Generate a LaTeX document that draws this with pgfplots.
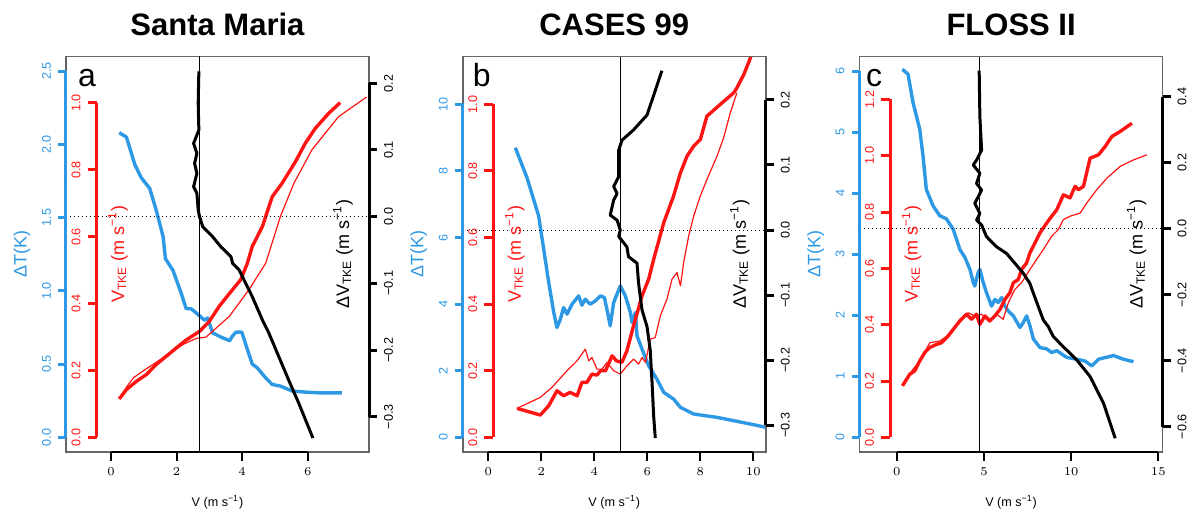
\documentclass[border=0pt]{standalone}
\usepackage{pgfplots}
\pgfplotsset{compat=1.18}
\usepackage{fontspec}
\setmainfont{Liberation Sans}
\definecolor{myblue}{RGB}{45,152,228}
\definecolor{myred}{RGB}{255,20,20}
\newcommand{\tl}{\fontsize{6.3}{7}\selectfont}
\pgfplotsset{
  every axis/.append style={scale only axis, anchor=south west},
  dbox/.style={width=151.5pt, height=197.75pt, hide axis, clip=true},
  fbox/.style={width=151.5pt, height=197.75pt, xtick=\empty, ytick=\empty,
     axis line style={draw=black!60, line width=0.7pt}, clip=true},
  blueln/.style={myblue, line width=1.7pt, line join=round},
  redthick/.style={myred, line width=1.7pt, line join=round},
  redthin/.style={myred, line width=0.6pt, line join=round},
  blackln/.style={black, line width=1.5pt, line join=round},
  bscale/.style={width=4pt, xmin=0, xmax=1, axis y line*=left, axis x line=none,
     xtick=\empty, tick align=outside, major tick length=4pt,
     y axis line style={-, draw=myblue, line width=1.5pt},
     ytick style={draw=myblue, line width=1.5pt},
     yticklabel style={rotate=90, anchor=south, font=\tl, text=myblue}},
  rscale/.style={width=4pt, xmin=0, xmax=1, axis y line*=left, axis x line=none,
     xtick=\empty, tick align=outside, major tick length=4.5pt,
     y axis line style={-, draw=myred, line width=1.5pt},
     ytick style={draw=myred, line width=1.5pt},
     yticklabel style={rotate=90, anchor=south, font=\tl, text=myred}},
  kscale/.style={anchor=south east, width=4pt, xmin=0, xmax=1, axis y line*=right, axis x line=none,
     xtick=\empty, tick align=outside, major tick length=4pt,
     y axis line style={-, draw=black, line width=1.5pt},
     ytick style={draw=black, line width=1.5pt},
     yticklabel style={rotate=90, anchor=north, font=\tl, text=black}},
  xscale/.style={height=2pt, ymin=0, ymax=1, axis x line*=bottom, axis y line=none,
     ytick=\empty, tick align=outside, major tick length=4.5pt,
     x axis line style={-, draw=black, line width=1pt},
     xtick style={draw=black, line width=1pt},
     xticklabel style={font=\tl, text=black}},
}
\begin{document}
\begin{tikzpicture}
\useasboundingbox (0,0) rectangle (596pt,257pt);
% ================= Panel a =================
\begin{axis}[dbox, at={(33pt,31pt)}, xmin=-1.373, xmax=7.871, ymin=-0.1, ymax=2.6]
\addplot[blueln] coordinates {(0.25,2.08)(0.47,2.05)(0.73,1.86)(0.93,1.77)(1.18,1.70)(1.38,1.55)(1.59,1.37)(1.66,1.22)(1.89,1.14)(2.14,0.985)(2.29,0.88)(2.45,0.877)(2.70,0.83)(2.85,0.80)(2.95,0.815)(3.10,0.713)(3.40,0.68)(3.62,0.66)(3.70,0.69)(3.81,0.718)(3.99,0.718)(4.16,0.60)(4.31,0.50)(4.46,0.475)(4.72,0.406)(4.92,0.361)(5.17,0.35)(5.53,0.316)(5.93,0.309)(6.33,0.304)(7.04,0.304)};
\end{axis}
\begin{axis}[dbox, at={(33pt,31pt)}, xmin=-1.373, xmax=7.871, ymin=-0.0437, ymax=1.139]
\addplot[redthin] coordinates {(0.25,0.115)(0.47,0.150)(0.68,0.178)(1.00,0.200)(1.40,0.226)(1.80,0.252)(2.20,0.278)(2.60,0.296)(2.90,0.300)(3.61,0.362)(4.21,0.442)(4.72,0.521)(5.17,0.661)(5.58,0.76)(6.13,0.86)(6.94,0.959)(7.80,1.018)};
\addplot[redthick] coordinates {(0.25,0.115)(0.47,0.143)(0.78,0.168)(1.08,0.188)(1.38,0.218)(1.69,0.243)(2.00,0.268)(2.29,0.291)(2.70,0.317)(3.00,0.347)(3.30,0.392)(3.71,0.442)(3.96,0.472)(4.16,0.521)(4.31,0.571)(4.62,0.631)(4.92,0.720)(5.22,0.760)(5.63,0.825)(5.93,0.880)(6.23,0.924)(6.64,0.969)(6.99,1.001)};
\end{axis}
\begin{axis}[fbox, at={(33pt,31pt)}, xmin=-1.373, xmax=7.871, ymin=-0.3529, ymax=0.2403]
\addplot[black, line width=0.5pt, dash pattern=on 0.6pt off 1.4pt] coordinates {(-1.373,0)(7.871,0)};
\addplot[black, line width=0.6pt] coordinates {(2.7,-0.3529)(2.7,0.2403)};
\addplot[blackln] coordinates {(2.68,0.218)(2.66,0.17)(2.68,0.13)(2.52,0.11)(2.62,0.095)(2.55,0.08)(2.62,0.065)(2.52,0.045)(2.62,0.035)(2.66,0.01)(2.70,0.000)(2.80,-0.015)(3.10,-0.030)(3.35,-0.045)(3.66,-0.060)(3.71,-0.070)(3.91,-0.080)(4.11,-0.100)(4.31,-0.120)(4.62,-0.155)(4.82,-0.175)(5.12,-0.210)(5.42,-0.245)(5.73,-0.280)(6.16,-0.332)};
\end{axis}
\begin{axis}[bscale, at={(33pt,38.3pt)}, height=183.1pt, ymin=0, ymax=2.5, ytick={0,0.5,1,1.5,2,2.5}, yticklabels={0.0,0.5,1.0,1.5,2.0,2.5}]
\end{axis}
\begin{axis}[rscale, at={(48.25pt,38.3pt)}, height=167.2pt, ymin=0, ymax=1, ytick={0,0.2,0.4,0.6,0.8,1}, yticklabels={0.0,0.2,0.4,0.6,0.8,1.0}]
\end{axis}
\begin{axis}[kscale, at={(184.5pt,48.65pt)}, height=166.7pt, ymin=-0.3, ymax=0.2, ytick={-0.3,-0.2,-0.1,0,0.1,0.2}, yticklabels={−0.3,−0.2,−0.1,0.0,0.1,0.2}]
\end{axis}
\begin{axis}[xscale, at={(55.5pt,31pt)}, width=98.34pt, xmin=0, xmax=6, xtick={0,2,4,6}]
\end{axis}
\node[rotate=90, text=myblue, font=\fontsize{9}{10}\selectfont] at (11pt,129.9pt) {ΔT(K)};
\node[rotate=90, text=myred, font=\fontsize{9}{10}\selectfont] at (59pt,129.9pt) {V\textsubscript{TKE} (m s\textsuperscript{−1})};
\node[rotate=90, text=black, font=\fontsize{9}{10}\selectfont] at (171.5pt,129.9pt) {ΔV\textsubscript{TKE} (m s\textsuperscript{−1})};
\node[anchor=base, font=\fontsize{16}{18}\selectfont] at (43.5pt,213.65pt) {a};
\node[anchor=base, font=\fontsize{15.5}{18}\selectfont\bfseries] at (108.75pt,239pt) {Santa Maria};
\node[anchor=base, font=\tl] at (108.75pt,3.65pt) {V (m s\textsuperscript{−1})};
% ================= Panel b =================
\begin{axis}[dbox, at={(231.4pt,31pt)}, xmin=-0.962, xmax=10.47, ymin=-0.44, ymax=11.44]
\addplot[blueln] coordinates {(1.02,8.70)(1.46,7.80)(1.90,6.65)(2.09,5.65)(2.28,4.65)(2.47,3.75)(2.59,3.30)(2.72,3.55)(2.84,3.90)(2.97,3.70)(3.16,4.00)(3.41,4.25)(3.53,3.97)(3.66,4.15)(3.84,4.00)(4.04,4.10)(4.23,4.25)(4.38,4.20)(4.50,3.75)(4.60,3.35)(4.73,4.05)(4.98,4.55)(5.17,4.25)(5.36,3.75)(5.42,3.45)(5.55,3.75)(5.61,3.05)(5.80,2.65)(6.05,2.15)(6.36,1.75)(6.62,1.35)(6.99,1.15)(7.25,0.90)(7.75,0.70)(8.63,0.60)(9.26,0.50)(9.89,0.40)(10.60,0.28)};
\end{axis}
\begin{axis}[dbox, at={(231.4pt,31pt)}, xmin=-0.962, xmax=10.47, ymin=-0.044, ymax=1.144]
\addplot[redthin] coordinates {(1.08,0.087)(1.96,0.12)(2.40,0.15)(2.97,0.20)(3.35,0.23)(3.66,0.265)(3.79,0.23)(3.91,0.24)(4.10,0.205)(4.29,0.205)(4.48,0.225)(4.73,0.20)(4.98,0.19)(5.23,0.215)(5.48,0.235)(5.67,0.22)(5.80,0.24)(5.93,0.225)(6.11,0.295)(6.30,0.30)(6.49,0.365)(6.74,0.415)(6.93,0.475)(7.12,0.495)(7.25,0.455)(7.37,0.525)(7.56,0.605)(7.75,0.665)(8.00,0.725)(8.25,0.775)(8.63,0.845)(8.88,0.90)(9.13,0.975)(9.38,1.035)};
\addplot[redthick] coordinates {(1.08,0.087)(1.96,0.067)(2.28,0.095)(2.59,0.14)(2.84,0.125)(3.09,0.135)(3.35,0.125)(3.53,0.165)(3.72,0.165)(3.91,0.19)(4.10,0.187)(4.23,0.20)(4.42,0.20)(4.67,0.245)(4.83,0.23)(5.04,0.225)(5.23,0.26)(5.48,0.335)(5.80,0.425)(6.05,0.475)(6.24,0.535)(6.62,0.645)(6.99,0.725)(7.25,0.795)(7.50,0.845)(7.75,0.875)(8.00,0.895)(8.25,0.965)(8.75,1.00)(9.26,1.035)(9.38,1.05)(9.64,1.09)(9.89,1.14)(10.0,1.17)};
\end{axis}
\begin{axis}[fbox, at={(231.4pt,31pt)}, xmin=-0.962, xmax=10.47, ymin=-0.3415, ymax=0.2669]
\addplot[black, line width=0.5pt, dash pattern=on 0.6pt off 1.4pt] coordinates {(-0.962,0)(10.47,0)};
\addplot[black, line width=0.6pt] coordinates {(5.0,-0.3415)(5.0,0.2669)};
\addplot[blackln] coordinates {(6.55,0.245)(5.99,0.177)(5.48,0.154)(5.04,0.138)(4.92,0.123)(4.92,0.082)(4.73,0.067)(4.86,0.056)(4.73,0.046)(4.60,0.023)(4.86,0.015)(4.98,0.000)(4.92,-0.010)(5.23,-0.026)(5.29,-0.041)(5.61,-0.051)(5.67,-0.082)(5.80,-0.123)(5.99,-0.149)(6.11,-0.185)(6.18,-0.236)(6.24,-0.287)(6.30,-0.320)};
\end{axis}
\begin{axis}[bscale, at={(231.4pt,38.3pt)}, height=166.5pt, ymin=0, ymax=10, ytick={0,2,4,6,8,10}, yticklabels={0,2,4,6,8,10}]
\end{axis}
\begin{axis}[rscale, at={(246.65pt,38.3pt)}, height=166.5pt, ymin=0, ymax=1, ytick={0,0.2,0.4,0.6,0.8,1}, yticklabels={0.0,0.2,0.4,0.6,0.8,1.0}]
\end{axis}
\begin{axis}[kscale, at={(382.9pt,44.5pt)}, height=162.5pt, ymin=-0.3, ymax=0.2, ytick={-0.3,-0.2,-0.1,0,0.1,0.2}, yticklabels={−0.3,−0.2,−0.1,0.0,0.1,0.2}]
\end{axis}
\begin{axis}[xscale, at={(244.15pt,31pt)}, width=132.5pt, xmin=0, xmax=10, xtick={0,2,4,6,8,10}]
\end{axis}
\node[rotate=90, text=myblue, font=\fontsize{9}{10}\selectfont] at (209.4pt,129.9pt) {ΔT(K)};
\node[rotate=90, text=myred, font=\fontsize{9}{10}\selectfont] at (257.4pt,129.9pt) {V\textsubscript{TKE} (m s\textsuperscript{−1})};
\node[rotate=90, text=black, font=\fontsize{9}{10}\selectfont] at (369.9pt,129.9pt) {ΔV\textsubscript{TKE} (m s\textsuperscript{−1})};
\node[anchor=base, font=\fontsize{16}{18}\selectfont] at (240.85pt,213.65pt) {b};
\node[anchor=base, font=\fontsize{15.5}{18}\selectfont\bfseries] at (307.15pt,239pt) {CASES 99};
\node[anchor=base, font=\tl] at (307.15pt,3.65pt) {V (m s\textsuperscript{−1})};
% ================= Panel c =================
\begin{axis}[dbox, at={(429.8pt,31pt)}, xmin=-2.127, xmax=15.25, ymin=-0.24, ymax=6.24]
\addplot[blueln] coordinates {(0.33,6.03)(0.65,5.95)(0.94,5.48)(1.32,5.05)(1.51,4.61)(1.70,4.06)(2.09,3.79)(2.47,3.63)(2.85,3.58)(3.24,3.41)(3.62,3.08)(3.91,2.95)(4.20,2.75)(4.39,2.54)(4.48,2.48)(4.67,2.70)(4.77,2.75)(4.96,2.54)(5.15,2.37)(5.44,2.15)(5.63,2.26)(5.82,2.21)(6.02,2.29)(6.21,2.15)(6.40,2.07)(6.69,1.99)(7.07,1.80)(7.26,1.88)(7.45,1.99)(7.64,1.83)(7.84,1.61)(8.22,1.47)(8.60,1.45)(8.89,1.39)(9.18,1.42)(9.75,1.31)(10.33,1.28)(10.80,1.25)(11.19,1.17)(11.57,1.28)(12.43,1.34)(13.00,1.28)(13.58,1.24)};
\end{axis}
\begin{axis}[dbox, at={(429.8pt,31pt)}, xmin=-2.127, xmax=15.25, ymin=-0.052, ymax=1.352]
\addplot[redthin] coordinates {(0.33,0.183)(0.94,0.242)(1.32,0.271)(1.90,0.336)(2.47,0.342)(3.05,0.366)(3.62,0.419)(4.10,0.442)(4.48,0.431)(4.87,0.437)(5.25,0.413)(5.73,0.437)(6.11,0.419)(6.40,0.478)(6.78,0.525)(7.16,0.549)(7.64,0.596)(8.02,0.631)(8.41,0.667)(8.89,0.714)(9.27,0.738)(9.56,0.773)(9.94,0.785)(10.52,0.796)(10.90,0.832)(11.47,0.879)(12.05,0.920)(12.82,0.962)(13.58,0.985)(14.35,1.003)};
\addplot[redthick] coordinates {(0.33,0.183)(0.75,0.224)(1.03,0.236)(1.32,0.271)(1.61,0.301)(1.90,0.319)(2.28,0.330)(2.57,0.336)(2.95,0.360)(3.24,0.383)(3.62,0.413)(4.00,0.437)(4.29,0.419)(4.58,0.437)(4.77,0.401)(5.06,0.431)(5.34,0.413)(5.63,0.431)(5.92,0.454)(6.21,0.490)(6.49,0.513)(6.69,0.549)(6.97,0.560)(7.16,0.596)(7.45,0.619)(7.64,0.655)(7.93,0.690)(8.22,0.726)(8.60,0.761)(8.89,0.785)(9.18,0.808)(9.56,0.861)(9.94,0.850)(10.23,0.891)(10.42,0.879)(10.71,0.891)(11.09,0.991)(11.57,1.003)(11.95,1.032)(12.34,1.068)(12.82,1.086)(13.49,1.115)};
\end{axis}
\begin{axis}[fbox, at={(429.8pt,31pt)}, xmin=-2.127, xmax=15.25, ymin=-0.6767, ymax=0.5218]
\addplot[black, line width=0.5pt, dash pattern=on 0.6pt off 1.4pt] coordinates {(-2.127,0)(15.25,0)};
\addplot[black, line width=0.6pt] coordinates {(4.77,-0.6767)(4.77,0.5218)};
\addplot[blackln] coordinates {(4.73,0.479)(4.77,0.339)(4.87,0.238)(4.58,0.208)(4.39,0.193)(4.77,0.168)(4.58,0.137)(4.87,0.117)(4.48,0.077)(4.77,0.046)(4.58,0.026)(4.87,0.011)(5.15,-0.024)(5.73,-0.055)(6.30,-0.075)(6.78,-0.105)(7.26,-0.135)(7.64,-0.166)(7.84,-0.196)(8.12,-0.236)(8.41,-0.277)(8.70,-0.297)(8.98,-0.327)(9.56,-0.358)(10.33,-0.398)(11.09,-0.448)(11.86,-0.529)(12.53,-0.635)};
\end{axis}
\begin{axis}[bscale, at={(429.8pt,38.3pt)}, height=183.1pt, ymin=0, ymax=6, ytick={0,1,2,3,4,5,6}, yticklabels={0,1,2,3,4,5,6}]
\end{axis}
\begin{axis}[rscale, at={(445.05pt,38.3pt)}, height=169pt, ymin=0, ymax=1.2, ytick={0,0.2,0.4,0.6,0.8,1,1.2}, yticklabels={0.0,0.2,0.4,0.6,0.8,1.0,1.2}]
\end{axis}
\begin{axis}[kscale, at={(581.3pt,43.65pt)}, height=165pt, ymin=-0.6, ymax=0.4, ytick={-0.6,-0.4,-0.2,0,0.2,0.4}, yticklabels={−0.6,−0.4,−0.2,0.0,0.2,0.4}]
\end{axis}
\begin{axis}[xscale, at={(448.35pt,31pt)}, width=130.8pt, xmin=0, xmax=15, xtick={0,5,10,15}]
\end{axis}
\node[rotate=90, text=myblue, font=\fontsize{9}{10}\selectfont] at (407.8pt,129.9pt) {ΔT(K)};
\node[rotate=90, text=myred, font=\fontsize{9}{10}\selectfont] at (455.8pt,129.9pt) {V\textsubscript{TKE} (m s\textsuperscript{−1})};
\node[rotate=90, text=black, font=\fontsize{9}{10}\selectfont] at (568.3pt,129.9pt) {ΔV\textsubscript{TKE} (m s\textsuperscript{−1})};
\node[anchor=base, font=\fontsize{16}{18}\selectfont] at (437pt,213.65pt) {c};
\node[anchor=base, font=\fontsize{15.5}{18}\selectfont\bfseries] at (505.55pt,239pt) {FLOSS II};
\node[anchor=base, font=\tl] at (505.55pt,3.65pt) {V (m s\textsuperscript{−1})};
\end{tikzpicture}
\end{document}
